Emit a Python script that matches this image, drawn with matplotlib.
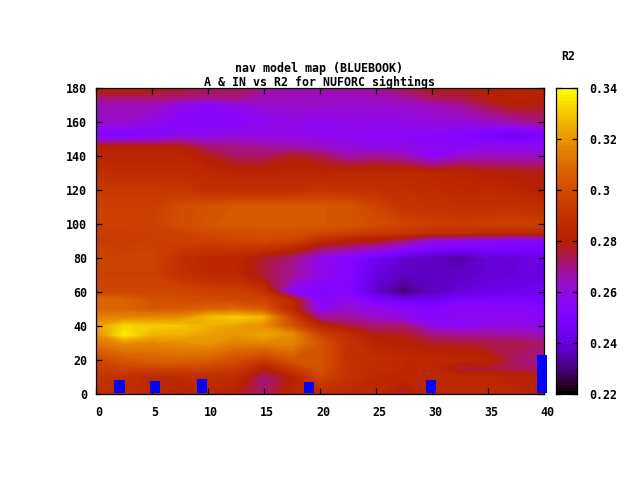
import numpy as np
import matplotlib
matplotlib.use("Agg")
import matplotlib.pyplot as plt
from matplotlib.colors import ListedColormap
from matplotlib.transforms import ScaledTranslation

FONT = "DejaVu Sans Mono"
title_lines = "nav model map (BLUEBOOK)\nA & IN vs R2 for NUFORC sightings"
cb_label = "R2"

x_grid = [0, 2.5, 5, 7.5, 10, 12.5, 15, 17.5, 20, 22.5, 25, 27.5, 30, 32.5, 35, 37.5, 40]
y_grid = [0, 10, 15, 20, 30, 35, 40, 45, 50, 55, 60, 70, 80, 90, 95, 100, 110, 120, 130, 140, 145, 152, 160, 170, 175, 180]

r2_y0   = [.287,.287,.284,.282,.284,.279,.272,.283,.286,.284,.284,.276,.284,.284,.284,.284,.280]
r2_y10  = [.290,.288,.285,.285,.287,.286,.270,.280,.298,.290,.285,.284,.284,.284,.284,.282,.281]
r2_y15  = [.293,.296,.296,.296,.296,.293,.280,.292,.302,.290,.287,.285,.284,.276,.275,.273,.272]
r2_y20  = [.297,.303,.306,.307,.305,.300,.293,.303,.303,.289,.288,.285,.285,.284,.283,.272,.268]
r2_y30  = [.312,.318,.316,.318,.320,.315,.316,.316,.303,.289,.282,.281,.277,.276,.274,.274,.272]
r2_y35  = [.318,.337,.327,.326,.322,.320,.324,.318,.296,.287,.278,.277,.270,.268,.268,.266,.264]
r2_y40  = [.322,.333,.331,.330,.326,.322,.318,.302,.284,.275,.271,.272,.258,.256,.258,.259,.258]
r2_y45  = [.315,.316,.317,.318,.328,.331,.326,.296,.268,.268,.262,.258,.252,.255,.256,.256,.254]
r2_y50  = [.308,.308,.304,.305,.308,.309,.304,.284,.256,.262,.259,.255,.252,.256,.256,.254,.252]
r2_y55  = [.309,.308,.302,.300,.300,.298,.297,.285,.254,.257,.248,.244,.244,.248,.248,.248,.248]
r2_y60  = [.298,.298,.298,.298,.296,.296,.290,.256,.250,.252,.238,.229,.236,.240,.242,.243,.244]
r2_y70  = [.296,.296,.296,.289,.285,.284,.275,.268,.258,.252,.240,.236,.237,.237,.239,.240,.241]
r2_y80  = [.297,.297,.297,.288,.285,.284,.276,.270,.257,.252,.244,.238,.236,.233,.239,.240,.242]
r2_y90  = [.293,.294,.295,.296,.295,.297,.298,.296,.285,.280,.277,.270,.258,.257,.255,.252,.252]
r2_y95  = [.294,.294,.295,.296,.299,.300,.301,.301,.298,.296,.293,.291,.288,.288,.286,.286,.284]
r2_y100 = [.296,.296,.296,.300,.303,.305,.305,.305,.304,.303,.300,.297,.295,.294,.295,.296,.295]
r2_y110 = [.295,.295,.295,.300,.302,.304,.304,.304,.304,.303,.297,.291,.290,.289,.289,.289,.288]
r2_y120 = [.293,.293,.293,.292,.288,.288,.288,.288,.291,.289,.289,.288,.287,.285,.285,.283,.279]
r2_y130 = [.287,.287,.287,.287,.285,.283,.283,.283,.283,.284,.285,.285,.284,.283,.280,.280,.279]
r2_y140 = [.283,.283,.283,.283,.278,.272,.272,.278,.274,.266,.268,.265,.254,.262,.264,.263,.262]
r2_y145 = [.282,.282,.282,.281,.272,.270,.268,.266,.264,.260,.258,.258,.256,.254,.258,.257,.258]
r2_y152 = [.250,.251,.252,.257,.258,.259,.258,.258,.257,.256,.255,.254,.254,.252,.246,.242,.248]
r2_y160 = [.262,.262,.258,.253,.252,.253,.256,.258,.256,.258,.258,.259,.260,.260,.262,.266,.270]
r2_y170 = [.265,.265,.265,.258,.255,.258,.262,.263,.263,.262,.262,.262,.264,.268,.275,.280,.278]
r2_y175 = [.272,.272,.272,.272,.270,.272,.265,.264,.263,.263,.265,.268,.274,.275,.280,.282,.281]
r2_y180 = [.283,.283,.282,.276,.273,.272,.268,.266,.266,.267,.268,.273,.278,.278,.280,.282,.282]

bar_x = [2.1, 5.3, 9.5, 19.0, 29.9, 39.8]
bar_top = [8.2, 7.6, 8.8, 7.0, 8.2, 23.0]
bar_bottom = 0.6
bar_width = 0.9

x_ticks = [0, 5, 10, 15, 20, 25, 30, 35, 40]
y_ticks = [0, 20, 40, 60, 80, 100, 120, 140, 160, 180]
cb_ticks = [0.22, 0.24, 0.26, 0.28, 0.30, 0.32, 0.34]
cb_ticklabels = ["0.22", "0.24", "0.26", "0.28", "0.3", "0.32", "0.34"]

Z = np.array([r2_y0, r2_y10, r2_y15, r2_y20, r2_y30, r2_y35, r2_y40, r2_y45, r2_y50, r2_y55, r2_y60,
              r2_y70, r2_y80, r2_y90, r2_y95, r2_y100, r2_y110, r2_y120, r2_y130, r2_y140, r2_y145,
              r2_y152, r2_y160, r2_y170, r2_y175, r2_y180])

# gnuplot default pm3d palette (rgbformulae 7,5,15)
t = np.linspace(0, 1, 256)
cmap = ListedColormap(np.clip(np.c_[np.sqrt(t), t**3, np.sin(2*np.pi*t)], 0, 1))

W, H = 640, 480
fig = plt.figure(figsize=(6.4, 4.8), dpi=100)
fp = dict(family=FONT, fontweight="bold", fontsize=8.4)
LW = 0.9

ax = fig.add_axes([96/W, (H-394)/H, 448/W, 306/H])
ax.contourf(x_grid, y_grid, Z, levels=np.linspace(0.22, 0.34, 97), cmap=cmap,
            vmin=0.22, vmax=0.34, antialiased=False, extend="both")
ax.bar(bar_x, np.array(bar_top)-bar_bottom, bar_width, bottom=bar_bottom, color="#0000ff", clip_on=False, zorder=3)
ax.set_xlim(0, 40)
ax.set_ylim(0, 180)
ax.set_xticks(x_ticks)
ax.set_yticks(y_ticks)
ax.tick_params(direction="in", top=True, right=True, length=4.4, width=LW, pad=9, labelsize=8.4)
ax.tick_params(axis="y", pad=6.5)
for lab in ax.get_xticklabels() + ax.get_yticklabels():
    lab.set_family(FONT); lab.set_fontweight("bold")
off = ScaledTranslation(3/100, 0, fig.dpi_scale_trans)
for lab in ax.get_xticklabels():
    lab.set_transform(lab.get_transform() + off)
for s in ax.spines.values():
    s.set_linewidth(LW)
fig.text(319/W, 1-75.5/H, title_lines, ha="center", va="center", linespacing=1.0, **fp)

cax = fig.add_axes([556/W, (H-394)/H, 21/W, 306/H])
grad = np.linspace(0.22, 0.34, 97).reshape(-1, 1)
cax.imshow(grad, origin="lower", aspect="auto", cmap=cmap, vmin=0.22, vmax=0.34,
           extent=[0, 1, 0.22, 0.34], interpolation="nearest")
cax.set_xticks([])
cax.set_yticks(cb_ticks)
cax.set_yticklabels(cb_ticklabels)
cax.tick_params(axis="y", direction="in", left=True, right=True, labelleft=False, labelright=True,
                length=3.5, width=LW, pad=9, labelsize=8.4)
for lab in cax.get_yticklabels():
    lab.set_family(FONT); lab.set_fontweight("bold")
for s in cax.spines.values():
    s.set_linewidth(LW)
fig.text(568/W, 1-57/H, cb_label, ha="center", va="center", **fp)

fig.savefig("out.png", dpi=100)
